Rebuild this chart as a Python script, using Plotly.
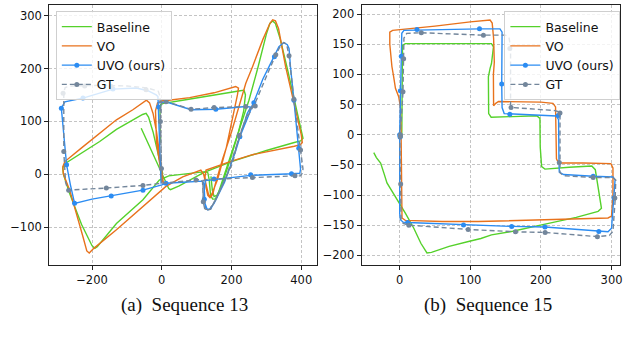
import plotly.graph_objects as go

# ---------------- Sequence 13 ----------------
base13_x = [3, -10, -25, -38, -45, -55, -83, -130, -178, -230, -278, -284, -282, -265, -230, -200, -192, -185,
            -130, -54, -7, 20, 60, 100, 125, 132, 136, 140, 146, 153, 160, 180, 200, 225, 250, 275, 300, 310,
            318, 326, 340, 360, 389, 403, 405, 398, 380, 300, 200, 120, 50, 25, 20, 5, -30, -59,
            None,
            -4, -5, -3, 5, 60, 120, 180, 225, 236, 240, 235, 220, 195, 170, 158, 150, 145, 141]
base13_y = [0, 40, 80, 108, 115, 113, 103, 85, 62, 40, 20, 12, 0, -35, -95, -135, -140, -137,
            -93, -48, -11, -3, 0, 3, 5, 3, -10, -40, -47, -47, -40, 0, 40, 90, 140, 200, 265, 285,
            290, 285, 255, 200, 115, 75, 68, 63, 60, 45, 24, 3, -22, -29, -27, -5, 45, 87,
            None,
            60, 120, 132, 134, 140, 147, 153, 158, 159, 150, 120, 80, 25, -25, -40, -42, -30, -4]

vo13_x = [5, -5, -15, -25, -35, -44, -55, -83, -130, -178, -230, -278, -284, -282, -264, -226, -215, -208, -195,
          -130, -45, 12, 60, 100, 112, 120, 128, 134, 140, 146, 155, 175, 200, 225, 241, 260, 290, 310, 318,
          326, 335, 355, 384, 400, 403, 398, 380, 320, 260, 200, 150, 127, 124, 127, 132, 138, 145, 160, 185,
          205, 217, 220, 212, 150, 80, 20, 3, -12, -18, -15, -5, 2]
vo13_y = [-18, 30, 80, 115, 135, 140, 135, 122, 103, 78, 50, 24, 14, 0, -30, -118, -145, -149, -140,
          -105, -55, -23, -5, 5, 8, 0, -20, -38, -43, -38, -15, 30, 80, 135, 172, 203, 255, 285, 292,
          290, 275, 204, 122, 75, 60, 56, 53, 45, 37, 25, 13, 8, -5, -25, -40, -44, -35, -10, 50,
          110, 150, 163, 166, 154, 145, 140, 139, 135, 120, 60, 10, -15]

uvo13_x = [-2, -4, -6, -7, -9, -11, -16, -40, -73, -140, -226, -278, -288, -273, -262, -250, -200, -145, -54,
           0, 12, 60, 100, 118, 121, 122, 125, 131, 140, 155, 193, 224, 245, 265, 290, 308, 336, 350, 360,
           365, 369, 379, 393, 398, 396, 374, 255, 150, 125, 122, 124, 130, 137, 150, 180, 210, 230, 245,
           255, 241, 155, 84, 12, -8]
uvo13_y = [-18, 20, 60, 100, 127, 147, 150, 158, 163, 161, 144, 137, 125, 18, -20, -55, -47, -41, -30,
           -20, -17, -15, -13, -13, -20, -47, -62, -67, -66, -48, 8, 71, 105, 140, 180, 204, 241, 249, 245,
           238, 204, 140, 49, 10, 2, 1, -2, -9, -12, -30, -55, -66, -66, -55, -15, 40, 85, 115,
           127, 128, 123, 122, 137, 135]
uvo13_mx = [-288, -226, -140, -273, -250, -145, -54, 12, -9, 155, 323, 379, 393, 372, 255, 150, 122, 224, 264]
uvo13_my = [125, 144, 161, 18, -55, -41, -30, -17, 127, 123, 222, 140, 49, 1, -1, -9, -47, 71, 135]

gt13_x = [0, -1, -3, -4, -5, -10, -40, -100, -178, -260, -277, -281, -281, -276, -269, -159, -54, 0, 98, 114,
          117, 119, 123, 130, 140, 160, 203, 222, 245, 268, 300, 327, 343, 350, 358, 365, 379, 398, 405, 403,
          398, 382, 260, 150, 125, 118, 119, 125, 135, 150, 185, 215, 240, 255, 268, 241, 150, 84, 12, 0,
          -4, -1, 0]
gt13_y = [-17, 11, 60, 100, 147, 157, 163, 167, 168, 167, 164, 155, 43, -15, -30, -26, -21, -17, -11, -10,
          -15, -52, -65, -68, -66, -40, 21, 74, 108, 135, 185, 226, 246, 249, 246, 224, 142, 46, 10, 2,
          -3, -3, -6, -9, -10, -12, -50, -66, -67, -55, -5, 55, 105, 125, 129, 128, 126, 123, 137, 140,
          100, 11, -17]
gt13_mx = [-283, -221, -145, -45, -281, -267, -159, -54, -1, -4, 12, 84, 150, 241, 268, 327, 365, 379, 398,
           382, 260, 98, 119, 222]
gt13_my = [153, 167, 166, 160, 43, -30, -26, -21, 11, 100, 137, 123, 126, 128, 129, 226, 224, 142, 46,
           -3, -6, -11, -52, 74]

# ---------------- Sequence 15 ----------------
base15_x = [3, 3.3, 4, 8, 60, 100, 130, 132.8, 130, 128, 125.6, 126, 129.5, 160, 194, 198.6, 199, 201, 205.7,
            240, 272, 277, 284, 285.7, 281, 250, 201, 160, 130, 115, 97.4, 70, 45, 38.6, 30, 20, 8, -3.8,
            -10, -18, -22, -27, -33, -36.7]
base15_y = [-5, 120, 148, 151, 151.5, 151.5, 151, 145.7, 118, 110, 96, 35, 29, 30, 31.5, 27, -20, -53, -57,
            -54, -52, -58, -110, -122, -127, -137, -149.5, -160, -166, -172, -177, -185, -195, -196, -180,
            -155, -130, -108, -97, -80, -65, -47, -38, -29.7]

vo15_x = [2, 3, 3.3, 8, 60, 111, 168, 250, 295, 300, 302, 302, 299, 260, 225, 222, 221, 220.7, 217, 200,
          140, 136, 133, 132.7, 134, 133, 131, 128, 100, 50, -10, -14, -14, -11, -8.5, -6, -1.4, 1, 2]
vo15_y = [0, -100, -138, -142, -144, -144, -142, -140, -138, -135, -100, -55, -48, -47, -47, -40, 0, 46, 52,
          54, 55, 52, 48, 100, 120, 160, 185, 190, 187, 180, 173, 170, 150, 113, 96, 77, 63, 46, 0]

uvo15_x = [0, -0.5, 0, 1, 5, 11.3, 90.4, 158.6, 205.7, 282, 295, 300, 303.5, 305, 302, 274, 232, 226, 225.5,
           225, 222, 160, 148, 145, 144.5, 145, 142, 113, 24.5, 6, 3, 2.3, 1, 0]
uvo15_y = [0, -83, -130, -141, -145, -145.6, -149.5, -152, -153, -160.5, -161, -155, -105, -75, -70, -69,
           -66, -62, -40, 25, 31, 33.7, 35, 45, 84, 170, 175.5, 175.5, 174.4, 173, 168, 130, 73, 0]
uvo15_mx = [24.5, 113, 144.5, 156, 224.5, 274, 303.5, 282, 205.7, 158.6, 90.4, 11.3, 0, 0.5, 1, 2.3]
uvo15_my = [174.4, 175.5, 84, 33.7, 32, -69, -105, -160.5, -153, -152, -149.5, -145.6, 0, -4, 73, 130]

gt15_x = [0, 1.4, 2, 5, 13, 97, 164, 206, 280, 297, 302, 305, 306, 302, 274, 232, 227, 227, 227, 225, 220,
          160, 157, 157, 155, 150, 118.6, 30.6, 10, 6, 5.6, 4.7, 2, 0]
gt15_y = [0, -81.6, -140, -147, -150, -157, -161, -162, -169, -167, -160, -110, -75, -71, -71, -68, -63,
          -46, 30, 38, 40, 45, 50, 143, 160, 165, 165, 169, 168, 160, 126, 71, 20, 0]
gt15_mx = [30.6, 118.6, 156, 157.7, 227, 226, 274, 304.7, 280, 206, 164, 97, 13, 1.4, 1, 1, 4.7, 5.6]
gt15_my = [169, 165, 143, 45, 36, -46, -71, -105, -169, -162, -161, -157, -150, -81.6, -3, 0, 71, 126]

names = ["Baseline", "VO", "UVO (ours)", "GT"]
C_BASE = "#55d12b"
C_VO = "#e8721c"
C_UVO = "#2b8cf2"
C_GT = "#73869b"

fig = go.Figure()


def add_panel(xa, ya, leg, base, vo, uvo, uvo_m, gt, gt_m):
    fig.add_trace(go.Scatter(x=base[0], y=base[1], mode="lines", line=dict(color=C_BASE, width=1.4),
                             xaxis=xa, yaxis=ya, showlegend=False, connectgaps=False, hoverinfo="skip"))
    fig.add_trace(go.Scatter(x=vo[0], y=vo[1], mode="lines", line=dict(color=C_VO, width=1.4),
                             xaxis=xa, yaxis=ya, showlegend=False, hoverinfo="skip"))
    fig.add_trace(go.Scatter(x=uvo[0], y=uvo[1], mode="lines", line=dict(color=C_UVO, width=1.4),
                             xaxis=xa, yaxis=ya, showlegend=False, hoverinfo="skip"))
    fig.add_trace(go.Scatter(x=uvo_m[0], y=uvo_m[1], mode="markers", marker=dict(color=C_UVO, size=5),
                             xaxis=xa, yaxis=ya, showlegend=False, hoverinfo="skip"))
    fig.add_trace(go.Scatter(x=gt[0], y=gt[1], mode="lines", line=dict(color=C_GT, width=1.4, dash="5px,3px"),
                             xaxis=xa, yaxis=ya, showlegend=False, hoverinfo="skip"))
    fig.add_trace(go.Scatter(x=gt_m[0], y=gt_m[1], mode="markers", marker=dict(color=C_GT, size=5),
                             xaxis=xa, yaxis=ya, showlegend=False, hoverinfo="skip"))
    styles = [
        dict(mode="lines", line=dict(color=C_BASE, width=1.4)),
        dict(mode="lines", line=dict(color=C_VO, width=1.4)),
        dict(mode="lines+markers", line=dict(color=C_UVO, width=1.4), marker=dict(color=C_UVO, size=5)),
        dict(mode="lines+markers", line=dict(color=C_GT, width=1.4, dash="5px,3px"), marker=dict(color=C_GT, size=5)),
    ]
    for nm, st in zip(names, styles):
        fig.add_trace(go.Scatter(x=[None], y=[None], name=nm, legend=leg, xaxis=xa, yaxis=ya, **st))


add_panel("x", "y", "legend", (base13_x, base13_y), (vo13_x, vo13_y), (uvo13_x, uvo13_y),
          (uvo13_mx, uvo13_my), (gt13_x, gt13_y), (gt13_mx, gt13_my))
add_panel("x2", "y2", "legend2", (base15_x, base15_y), (vo15_x, vo15_y), (uvo15_x, uvo15_y),
          (uvo15_mx, uvo15_my), (gt15_x, gt15_y), (gt15_mx, gt15_my))

W, H = 627, 339
ax_common = dict(showline=True, mirror=True, linecolor="#222222", linewidth=1, ticks="outside",
                 ticklen=4, tickcolor="#222222", showgrid=True, gridcolor="#c4c4c4", gridwidth=0.8,
                 griddash="3px,2px", zeroline=False,
                 tickfont=dict(family="DejaVu Sans", size=11.5, color="#111111"))

legend_common = dict(bgcolor="rgba(255,255,255,0.8)", bordercolor="#cfcfcf", borderwidth=1,
                     font=dict(family="DejaVu Sans", size=12.5, color="#111111"), itemwidth=30,
                     xanchor="left", yanchor="top", tracegroupgap=0)

fig.update_layout(
    width=W, height=H, margin=dict(l=0, r=0, t=0, b=0),
    paper_bgcolor="white", plot_bgcolor="white",
    xaxis=dict(domain=[49.3 / W, 318.3 / W], range=[-323, 446], tickvals=[-200, 0, 200, 400],
               anchor="y", **ax_common),
    yaxis=dict(domain=[1 - 265 / H, 1 - 5 / H], range=[-171.5, 320], tickvals=[-100, 0, 100, 200, 300],
               anchor="x", **ax_common),
    xaxis2=dict(domain=[362.7 / W, 622 / W], range=[-54, 312], tickvals=[0, 100, 200, 300],
                anchor="y2", **ax_common),
    yaxis2=dict(domain=[1 - 265 / H, 1 - 5 / H], range=[-216, 215],
                tickvals=[-200, -150, -100, -50, 0, 50, 100, 150, 200], anchor="x2", **ax_common),
    legend=dict(x=56 / W, y=1 - 11 / H, **legend_common),
    legend2=dict(x=506 / W, y=1 - 11 / H, **legend_common),
    showlegend=True,
    annotations=[
        dict(text="(a)\u00a0\u00a0Sequence 13", x=185 / W, y=1 - 305 / H, xref="paper", yref="paper",
             showarrow=False, xanchor="center", yanchor="middle",
             font=dict(family="Liberation Serif", size=19, color="#111111")),
        dict(text="(b)\u00a0\u00a0Sequence 15", x=490 / W, y=1 - 305 / H, xref="paper", yref="paper",
             showarrow=False, xanchor="center", yanchor="middle",
             font=dict(family="Liberation Serif", size=19, color="#111111")),
    ],
)

fig.write_html("out.html", config={"displayModeBar": False},
               post_script="document.body.style.margin='0';document.body.style.overflow='hidden';")
